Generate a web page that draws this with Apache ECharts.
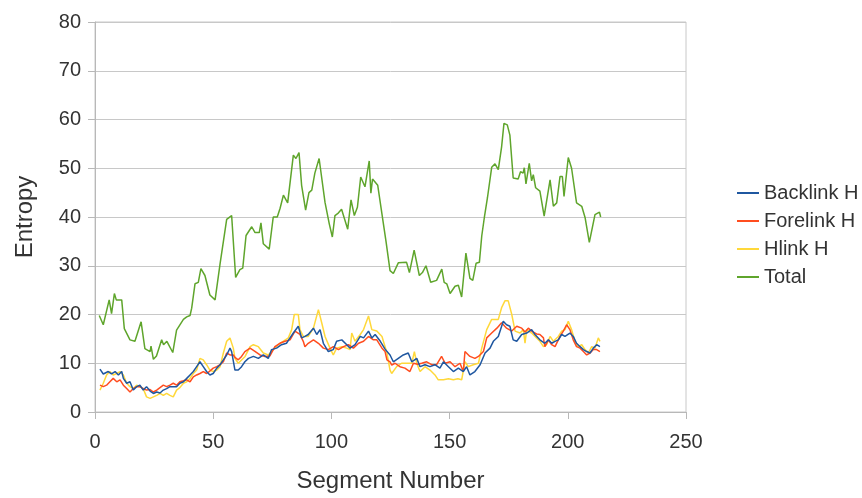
<!DOCTYPE html>
<html>
<head>
<meta charset="utf-8">
<script src="https://cdn.jsdelivr.net/npm/echarts@6/dist/echarts.min.js"></script>
<style>html,body{margin:0;padding:0;background:#fff;}#c{width:862px;height:498px;}</style>
</head>
<body>
<div id="c"></div>
<script>
const seriesNames = ['Backlink H', 'Forelink H', 'Hlink H', 'Total'];
const xTicks = [0, 50, 100, 150, 200, 250];
const yTicks = [0, 10, 20, 30, 40, 50, 60, 70, 80];

const backlinkH = [[2.1,8.8],[3.5,7.8],[5.6,8.3],[7,7.8],[8.5,8.3],[9.9,7.6],[11.3,8.3],[12,6.9],[13.4,5.9],[14.8,6.2],[16.2,4.5],[17.6,5.2],[19,5.5],[20.4,4.5],[21.8,5.2],[23.3,4.3],[24.7,3.8],[26.1,4.1],[27.5,3.9],[28.9,4.5],[30.3,4.8],[31.7,5.2],[34.5,5.2],[35.9,5.9],[37.4,6.2],[38.8,6.9],[40.2,7.6],[41.6,8.3],[43,9.3],[44.4,10.3],[45.8,9.3],[47.2,8.3],[48.6,7.6],[50,7.9],[51.5,9],[52.9,9.7],[54.3,10.7],[55.7,11.7],[57.1,13.1],[57.8,12.4],[59.2,8.6],[60.6,8.6],[62,9.3],[63.4,10.3],[64.9,11],[67,11.4],[69.1,11],[71.2,11.7],[73.3,11],[74.7,12.8],[76.8,13.1],[78.9,13.8],[81,14.1],[82.5,15.2],[83.9,16.2],[86,17.6],[87.4,15.2],[88.8,15.5],[90.2,15.9],[92.4,17.2],[93.8,15.9],[95.2,16.9],[96.6,14.1],[98.7,12.4],[100.8,12.8],[102.2,14.5],[104.4,14.8],[106.5,13.8],[107.9,13.1],[110,13.8],[112.2,15.5],[113.6,15.2],[115.7,16.6],[117.1,15.2],[118.5,15.9],[120.7,14.5],[122.7,12.9],[124.8,11.7],[126.2,10.3],[128.3,11],[130.4,11.7],[132.5,12.1],[134,10.3],[136.1,11],[137.5,9.3],[139.6,9.7],[141.7,9.3],[143.8,9.7],[145.9,9],[147.4,10.3],[149.5,9.3],[151.6,8.3],[153.7,9],[155.8,8.3],[157.2,9.3],[158.6,7.6],[160.7,8.3],[162.9,9.7],[165,12.1],[167.1,13.1],[168.5,14.5],[170.6,15.5],[172.7,18.6],[174.1,17.9],[175.5,17.6],[176.9,14.8],[178.4,14.5],[180.5,15.9],[182.6,16.2],[184.7,16.9],[186.1,15.9],[188.2,14.8],[190.3,14.1],[191.8,14.8],[193.2,14.1],[194.6,14.5],[196,14.8],[197.4,15.9],[198.8,15.5],[200.9,16.2],[202.3,15.5],[203.7,14.1],[205.2,13.4],[206.6,12.8],[208,12.4],[209.4,12.1],[210.8,13.1],[212.2,13.8],[213.6,13.4]];

const forelinkH = [[2.1,5.5],[3.5,5.2],[4.9,5.5],[6.3,6.2],[7.7,6.9],[9.2,6.2],[10.6,6.6],[12,5.5],[13.4,4.8],[14.8,4.1],[16.2,4.8],[17.6,5.2],[19,5.2],[20.4,4.8],[21.8,4.5],[23.3,4.6],[24.7,4.1],[26.1,4.5],[27.5,5],[28.9,5.5],[30.3,5.2],[31.7,5.5],[33.1,5.9],[34.5,5.5],[35.9,6.2],[37.4,6.4],[38.8,6.6],[40.2,6.2],[41.6,7.2],[43,7.6],[44.4,7.9],[45.8,8.3],[47.2,7.9],[48.6,8.4],[50,9],[51.5,9.3],[52.9,9.7],[54.3,10.3],[55.7,12.1],[57.1,11.7],[58.5,11.7],[59.2,11.2],[60.6,10.7],[62,11.4],[63.4,12.4],[65.6,13.1],[67.5,12.5],[69.8,11.7],[71.9,11.4],[74,11.5],[76.1,13.4],[78.2,14.1],[80.4,14.5],[82.5,14.8],[84.6,16.6],[86.7,15.9],[88.1,14.5],[88.8,13.4],[90.2,14.1],[92.4,14.8],[94.5,14.1],[96.6,13.1],[98.7,12.8],[100.8,13.4],[103,12.8],[105.1,13.4],[107.2,13.8],[109.3,13.1],[111.5,14.1],[113.6,14.5],[115.7,15.5],[117.8,14.8],[119.2,14.8],[121.4,13.1],[122.7,12.4],[123.5,10.7],[124.8,10.3],[125.5,9.6],[126.9,10],[129,9.3],[131.1,9],[133.2,8.3],[134.7,10],[136.5,9.8],[138.2,10],[140.3,10.3],[142.4,9.7],[144.5,9.7],[146.6,11.4],[148.1,10],[150.2,10.3],[152.3,9.3],[154.4,10],[155.8,8.3],[156.5,12.4],[158.6,11.4],[160.7,11],[162.2,11.4],[164.3,12.4],[165.7,15.2],[167.8,16.2],[170,17.2],[172,18.3],[174.1,17.2],[176.3,16.6],[178.4,17.6],[180.5,17.2],[181.9,16.4],[183.3,17.2],[184.7,16.6],[186.8,16],[188.2,15.9],[189.7,15.2],[190.3,13.4],[191.8,14.8],[193.2,13.8],[194.6,13.4],[196.7,15.5],[198.1,16.6],[199.5,17.9],[200.9,16.9],[202.3,14.8],[203.7,13.4],[205.2,13.1],[206.6,12.4],[208,11.7],[209.4,12.1],[210.8,12.8],[212.2,12.8],[213.6,12.4]];

const hlinkH = [[2.1,4.5],[3.5,5.9],[4.9,7.6],[6.3,8.3],[7.7,7.6],[9.2,7.9],[10.6,8.3],[12,7.6],[13.4,5.9],[14.8,5.2],[16.2,4.8],[17.6,5.5],[19,5.2],[20.4,4.8],[21.8,3.1],[23.3,2.8],[24.7,3.1],[26.1,3.4],[27.5,3.8],[28.9,3.4],[30.3,3.8],[31.7,3.4],[33.1,3.1],[34.5,4.5],[35.9,5],[37.4,5.9],[38.8,6.2],[40.2,6.9],[41.6,7.9],[43,8.6],[44.4,11],[45.8,10.7],[47.2,9.7],[48.6,8.6],[50,8.3],[51.5,8.6],[52.9,9.3],[54.3,12.1],[55.7,14.5],[57.1,15.2],[57.8,15.5],[58.5,13.1],[59.2,11],[60.6,10],[61.3,10.3],[63.5,11.4],[65.6,13.4],[67,13.8],[69.1,13.4],[71.2,12.1],[73.3,11.7],[75.5,12.8],[77.5,13.8],[79.6,14.5],[81.8,15.2],[83.2,16.9],[84.3,20],[86,20],[86.7,16.9],[88.1,15.5],[90.2,15.5],[92.4,17.2],[94.5,21],[95.9,18.3],[97.3,15.5],[99.4,13.1],[100.8,11.7],[102.2,13.1],[104.4,13.4],[106.5,13.1],[107.9,12.8],[108.6,16.2],[110,14.5],[112.2,15.9],[113.6,16.9],[115.7,19.7],[117.1,16.9],[119.2,16.6],[121.4,15.5],[123.5,12.1],[124.8,8.6],[125.5,7.9],[127.6,9.3],[129.7,10],[134,10],[135.1,12.4],[136.1,10],[137.5,8.3],[139.6,9.3],[141.7,8.6],[143.8,7.6],[145.2,6.6],[147.4,6.6],[149.5,6.8],[151.6,6.6],[153.5,6.8],[155.1,6.6],[156.5,10.3],[157.9,9.3],[160,9.7],[162.2,10],[163.6,13.1],[165.7,16.9],[167.8,19],[170.6,19],[172,21.4],[173.4,22.8],[174.8,22.8],[176.3,20],[177.7,16.6],[179.8,16.2],[181.2,16.9],[181.9,14.1],[182.6,16.9],[184.7,16.2],[186.8,15.2],[188.2,14.5],[189.7,13.4],[191,13.8],[192.5,15.5],[193.9,14.5],[196,15.5],[197.4,16.6],[198.8,16.9],[200.2,18.6],[201.6,16.9],[203,14.5],[204.5,13.4],[205.9,13.8],[207.3,12.8],[208.7,12.1],[210.1,13.4],[211.5,13.1],[212.9,15.2],[213.6,14.5]];

const total = [[1.8,19.8],[3.5,17.9],[6,23],[7,20.2],[8.2,24.3],[9,23],[11.3,23],[12.4,17.1],[14.8,14.8],[16.9,14.5],[19.5,18.5],[21.1,13],[23.3,12.4],[23.7,13.5],[24.7,10.8],[26,11.5],[28.2,14.8],[29,13.8],[30.4,14.5],[32.9,12.2],[34.5,16.8],[37.4,19],[38.8,19.5],[40.2,19.8],[40.9,21.3],[42.3,26.3],[43.7,26.6],[44.8,29.4],[46.5,28],[48.6,24],[50.8,23],[52.9,30.4],[55.7,39.5],[57.8,40.3],[59.5,27.6],[61.3,29.2],[62.5,29.5],[63.9,36.2],[66.3,38],[67.7,36.8],[69.5,36.8],[70.2,38.8],[71.2,34.5],[73.7,33.4],[75.4,40],[77.1,40],[78.3,41.8],[79.7,44.5],[81.5,42.9],[83.9,52.7],[85,52],[86.3,53.2],[87.4,46.5],[88,46.3],[89.1,41.4],[90.5,45],[91.7,45.5],[93,49],[94.8,52],[97.3,43],[99.1,38.6],[100.4,35.9],[101.5,40.3],[102.9,40.8],[104.3,41.6],[106.9,37.5],[108.3,43.5],[109.7,40.3],[111,42],[112.4,48.2],[114.2,46.2],[116,51.5],[116.7,44.9],[117.4,47.8],[119.6,46.5],[122,38.6],[123.1,35],[124.8,29],[126.2,28.4],[128.3,30.6],[131.8,30.7],[133,28.6],[135,33.2],[137.2,28],[138.5,28.6],[140,30],[142,26.6],[144.5,27],[146.7,29.3],[147.7,26.6],[148.8,26.3],[150.2,24.3],[152.3,25.8],[153.7,26],[155.1,23.6],[156.9,32.6],[158.6,27.4],[159.8,27],[161.2,30.5],[162.6,30.7],[163.6,36.1],[164.7,39.9],[166,43.9],[167.8,50.2],[169.2,50.9],[170.6,49.7],[172,54.4],[173,59.2],[174.4,58.9],[175.5,56.8],[176.9,48],[179,47.8],[180,49.3],[181.1,49],[181.6,50.1],[182.3,46.8],[183.7,51],[184.7,47.4],[185.4,48.7],[186.4,46],[188.2,45.3],[190,40.2],[192.5,47.6],[193.9,42.2],[195.3,42.9],[196.7,48.3],[197.7,48.3],[198.4,44.2],[200.2,52.2],[201.6,50],[203.7,42.9],[205.9,42.2],[207.3,39.9],[209.1,34.8],[211.5,40.5],[213.4,41],[213.9,40]];

const colors = ['#1f57a0', '#ff4d1f', '#ffd83a', '#5fa52c'];
const seriesData = [backlinkH, forelinkH, hlinkH, total];

const chart = echarts.init(document.getElementById('c'), null, {renderer: 'canvas'});
const font = 'Liberation Sans, Arial, sans-serif';
chart.setOption({
  animation: false,
  backgroundColor: '#ffffff',
  color: colors,
  grid: {left: 95, right: 176, top: 22, bottom: 82, containLabel: false, show: true, borderColor: '#c8c8c8', borderWidth: 1},
  legend: {
    data: seriesNames,
    orient: 'vertical',
    left: 737,
    top: 183,
    padding: 0,
    itemGap: 8,
    itemWidth: 22,
    itemHeight: 2,
    icon: 'rect',
    textStyle: {fontFamily: font, fontSize: 20, color: '#333333', lineHeight: 20}
  },
  xAxis: {
    type: 'value',
    min: xTicks[0],
    max: xTicks[xTicks.length - 1],
    interval: 50,
    name: 'Segment Number',
    nameLocation: 'middle',
    nameGap: 57,
    nameTextStyle: {fontFamily: font, fontSize: 24, color: '#333333'},
    axisLine: {show: true, lineStyle: {color: '#b8b8b8', width: 1}},
    axisTick: {show: true, length: 7, lineStyle: {color: '#b8b8b8'}},
    axisLabel: {fontFamily: font, fontSize: 20, color: '#333333', margin: 20},
    splitLine: {show: false}
  },
  yAxis: {
    type: 'value',
    min: yTicks[0],
    max: yTicks[yTicks.length - 1],
    interval: 10,
    name: 'Entropy',
    nameLocation: 'middle',
    nameRotate: 90,
    nameGap: 58,
    nameTextStyle: {fontFamily: font, fontSize: 24, color: '#333333'},
    axisLine: {show: true, lineStyle: {color: '#b8b8b8', width: 1}},
    axisTick: {show: true, length: 7, lineStyle: {color: '#b8b8b8'}},
    axisLabel: {fontFamily: font, fontSize: 20, color: '#333333', margin: 14},
    splitLine: {show: true, lineStyle: {color: '#c8c8c8', width: 1}}
  },
  series: seriesNames.map((n, i) => ({
    name: n,
    type: 'line',
    data: seriesData[i],
    symbol: 'none',
    smooth: false,
    lineStyle: {width: 1.5, color: colors[i]},
    z: i === 3 ? 2 : 3 + (2 - i)
  }))
});
</script>
</body>
</html>
